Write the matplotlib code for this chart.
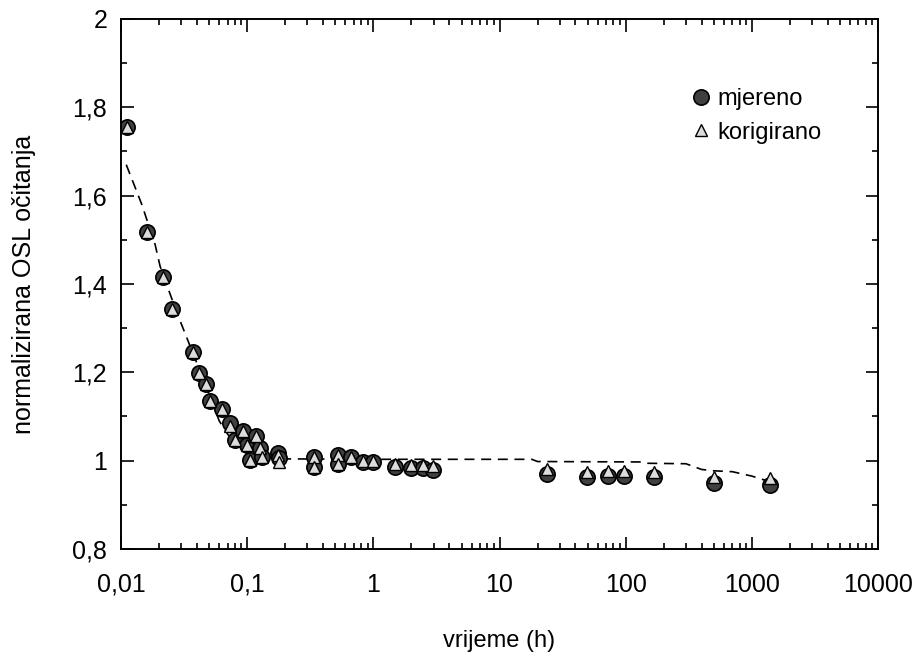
import numpy as np
import matplotlib.pyplot as plt
from matplotlib import ticker

plt.rcParams['font.family'] = ['Liberation Sans', 'DejaVu Sans']

# time (h), measured and corrected normalised OSL readings
vrijeme = [0.0112, 0.0161, 0.0215, 0.0254, 0.0372, 0.0417, 0.0472, 0.0508,
           0.0628, 0.0731, 0.080, 0.092, 0.099, 0.105, 0.117, 0.126, 0.130,
           0.176, 0.18, 0.34, 0.34, 0.52, 0.52, 0.67, 0.83, 1.0, 1.48, 2.0,
           2.46, 2.98, 24, 49, 72, 97, 168, 505, 1390]
mjereno = [1.756, 1.518, 1.416, 1.343, 1.246, 1.199, 1.174, 1.136,
           1.118, 1.085, 1.047, 1.066, 1.035, 1.001, 1.056, 1.028, 1.009,
           1.017, 1.005, 1.009, 0.985, 1.012, 0.993, 1.008, 0.998, 0.998,
           0.986, 0.983, 0.983, 0.979, 0.970, 0.963, 0.965, 0.965, 0.962,
           0.950, 0.945]
korigirano = [1.756, 1.518, 1.416, 1.343, 1.246, 1.199, 1.174, 1.136,
              1.118, 1.078, 1.047, 1.066, 1.035, 1.001, 1.056, 1.028, 1.009,
              1.012, 0.998, 1.009, 0.985, 1.012, 0.993, 1.008, 1.0, 1.0,
              0.993, 0.99, 0.99, 0.988, 0.982, 0.975, 0.977, 0.977, 0.975,
              0.962, 0.960]

# dashed curve
krivulja_t = [0.011, 0.0146, 0.0186, 0.0204, 0.025, 0.03, 0.04, 0.05, 0.06,
              0.07, 0.08, 0.1, 0.13, 0.2, 1, 18, 20, 130, 150, 300, 400, 500,
              700, 1000, 1400]
krivulja_y = [1.67, 1.58, 1.49, 1.44, 1.37, 1.31, 1.22, 1.15, 1.09,
              1.06, 1.04, 1.02, 1.008, 1.004, 1.003, 1.003, 0.998, 0.997,
              0.994, 0.993, 0.98, 0.977, 0.975, 0.965, 0.952]

x_ticks = [0.01, 0.1, 1, 10, 100, 1000, 10000]
y_ticks = [0.8, 1.0, 1.2, 1.4, 1.6, 1.8, 2.0]

fig = plt.figure(figsize=(9.19, 6.52), dpi=100)
ax = fig.add_axes([0.1317, 0.158, 0.8237, 0.813])

ax.plot(krivulja_t, krivulja_y, color='black', lw=1.2, dashes=(6, 4), zorder=1)
ax.plot(vrijeme, mjereno, 'o', ms=11, mfc='#404040', mec='black', mew=1.2,
        ls='none', label='mjereno', zorder=2)
ax.plot(vrijeme, korigirano, '^', ms=9, mfc='#dcdcdc', mec='black', mew=1.0,
        ls='none', label='korigirano', zorder=3)

ax.set_xscale('log')
ax.set_xlim(0.01, 10000)
ax.set_ylim(0.8, 2.0)
ax.set_xticks(x_ticks)
ax.set_yticks(y_ticks)
ax.yaxis.set_minor_locator(ticker.MultipleLocator(0.1))
ax.xaxis.set_minor_locator(ticker.LogLocator(base=10, subs=np.arange(2, 10), numticks=20))
ax.xaxis.set_minor_formatter(ticker.NullFormatter())


def zarez(v, pos):
    # decimal comma, no trailing zeros
    return ('%g' % round(v, 4)).replace('.', ',')


ax.xaxis.set_major_formatter(ticker.FuncFormatter(zarez))
ax.yaxis.set_major_formatter(ticker.FuncFormatter(zarez))

ax.tick_params(which='both', direction='in', top=True, right=True, labelsize=18)
ax.tick_params(which='major', length=9, width=1.2)
ax.tick_params(which='minor', length=4.5, width=1.2)
ax.tick_params(axis='x', which='major', pad=17)
ax.tick_params(axis='y', which='major', pad=10)
for s in ax.spines.values():
    s.set_linewidth(1.4)

ax.set_xlabel('vrijeme (h)', fontsize=17, labelpad=24)
ax.set_ylabel('normalizirana OSL očitanja', fontsize=18, labelpad=26)

ax.legend(loc='upper left', bbox_to_anchor=(0.75, 0.87), frameon=False,
          fontsize=17, handlelength=1, handletextpad=0.2, labelspacing=0.5,
          borderpad=0, borderaxespad=0)

fig.savefig('out.png', dpi=100)
